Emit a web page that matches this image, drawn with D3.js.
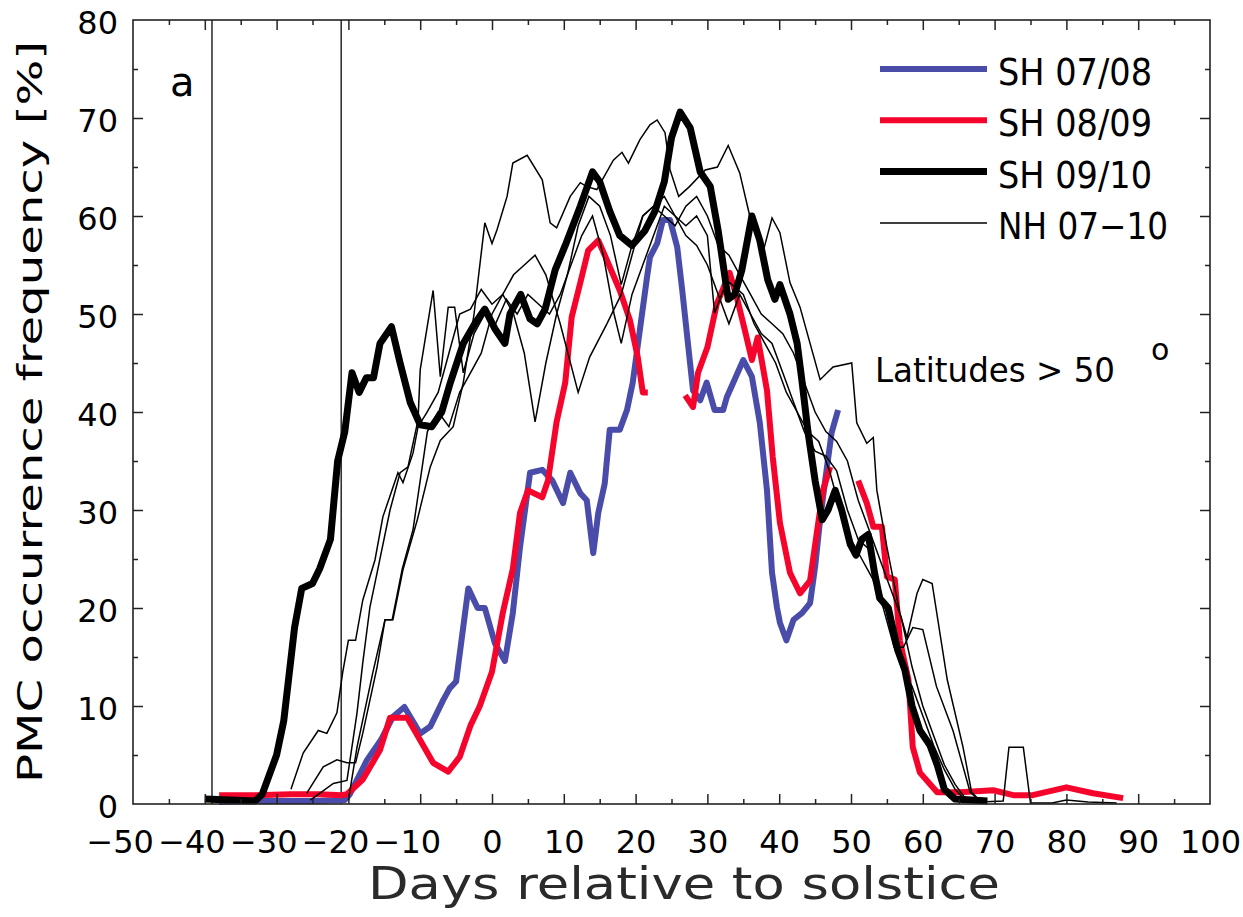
<!DOCTYPE html>
<html>
<head>
<meta charset="utf-8">
<script src="https://cdn.jsdelivr.net/npm/d3@7"></script>
<style>
body { margin: 0; background: #fff; }
svg text { font-family: "DejaVu Sans", sans-serif; fill: #000; }
</style>
</head>
<body>
<script>
// x ticks, y ticks
var xTicks = [-50, -40, -30, -20, -10, 0, 10, 20, 30, 40, 50, 60, 70, 80, 90, 100];
var yTicks = [0, 10, 20, 30, 40, 50, 60, 70, 80];
var markerDays = [-39, -21];

// SH seasons, [day, %]   (null = gap in the record)
var sh0708 = [[-38,0.2],[-33,0.3],[-25,0.3],[-20.5,0.4],[-19.8,1],[-17.4,4.5],[-15.5,6.5],[-13.8,8.9],[-12.2,9.9],
  [-10,7.2],[-8.6,7.9],[-6.8,10.6],[-5.9,11.8],[-5,12.5],[-3.3,22],[-2,20],[-1,20],[0.4,16.4],[1.8,14.6],[2.9,19.5],
  [3.9,26.2],[5.3,33.8],[7,34.1],[8.4,33],[9.9,30.7],[10.9,33.8],[12.3,31.7],[13.2,31],[14.1,25.6],[14.8,29.7],
  [15.7,32.7],[16.4,38.2],[17.8,38.2],[18.8,40.2],[19.6,43],[20.6,48.4],[21.6,53.8],[22,55.8],[23,57.2],[23.8,59.6],
  [24.8,59.6],[25.8,56.8],[26.5,52.4],[27.2,47.6],[28,42.2],[29,41.2],[29.9,43],[31,40.2],[32.2,40.2],[32.7,41.5],
  [35,45.3],[36.2,43.6],[37.3,38.9],[38.3,32],[39,23.6],[39.7,20],[40.1,18.5],[41,16.7],[42,18.8],[43.2,19.5],
  [44.3,20.5],[45,24.2],[45.7,29],[46.4,33],[47.3,37.9],[48.2,40.2]];

var sh0809 = [[-38,0.9],[-33,0.9],[-28,1],[-24,1],[-21,0.9],[-20.2,1],[-18,2.5],[-15.6,5.5],[-14.2,8.8],[-11.8,8.8],
  [-10,6.5],[-8.2,4.2],[-6.1,3.3],[-4.5,4.8],[-3,8],[-1.7,10],[0,13.5],[1.5,19.5],[2.9,24],[3.9,29.7],[5,32],
  [7,31.3],[7.8,33],[9,39],[10.2,43],[11.1,49.7],[12.3,53.2],[13.4,56.5],[14.8,57.5],[16,55.5],[17.8,52.4],
  [19.2,49.4],[20.3,45.6],[21,42],[21.7,42],[24,null],[26.9,41.7],[28,40.5],[28.7,44],[30,46.6],[31.3,51],
  [33.1,54.2],[34.1,51.7],[35.2,48.4],[36.2,45.3],[37,47.6],[38.3,42.2],[39.1,35.4],[40.1,28.7],[41.5,23.6],
  [42.9,21.5],[44.3,22.8],[45.3,28],[46.1,32],[47.1,34.4],[49,null],[51,33],[52.2,30.7],[53.1,28.3],[54.3,28.3],
  [55,23.2],[56.1,22.9],[56.8,16.7],[58,12.7],[58.6,5.8],[59.6,3.2],[62,1.2],[65.2,1.2],[69.8,1.4],[72.6,0.9],
  [75.3,0.9],[80,1.7],[83.7,1.1],[87.9,0.6]];

var sh0910 = [[-40,0.5],[-33,0.3],[-32,1],[-30,5],[-29,8.5],[-27.5,18],[-26.5,22],[-25,22.5],[-24,24],[-22.5,27],
  [-21.5,35],[-20.5,38],[-19.5,44],[-18.5,42],[-17.5,43.5],[-16.5,43.5],[-15.6,47],[-14,48.7],[-12.8,45],[-11.4,41],
  [-10,38.7],[-8.4,38.5],[-7,40],[-5.8,43],[-4,47],[-2.4,49],[-1,50.5],[0.4,48.5],[1.8,47],[2.5,50],[4,52],
  [5.3,49.5],[6.3,49],[7.4,50.5],[8.8,54.5],[10.2,57],[12.3,61],[14,64.5],[15,63.5],[16.4,60.5],[17.8,58],
  [19.5,57],[21.3,58.5],[22.7,60.5],[24,63.5],[25,68],[26.2,70.6],[27.6,69],[29,64.5],[30.4,63],[31.5,58.5],
  [32.9,51.5],[33.8,52],[34.8,54.5],[36.2,60],[37.3,57.5],[38.4,53.5],[39.4,51.5],[40.1,53],[41.5,50],[42.5,47],
  [43.2,43],[44,38],[45,33],[46,29],[46.8,30],[47.8,32],[48.7,30],[49.9,26.5],[50.7,25.4],[51.5,27],[52.4,27.5],
  [53.3,23.5],[54,21],[55.2,20],[56.5,15.7],[57.5,13.7],[58.5,10],[59.6,7.5],[61,6],[62,4],[63,1.5],[64.5,0.5],
  [69,0.3]];

// NH seasons 07-10
var nhA = [[-28,1.5],[-26.3,5.2],[-24.2,7.5],[-23,7.2],[-21.6,9.3],[-20.8,13.4],[-20,16.7],[-19,16.7],[-18,20.8],
  [-16.3,24.9],[-15.2,29.3],[-13.1,33.8],[-12.4,32.8],[-11,35.8],[-10.3,38.5],[-9.1,39.9],[-7.5,42],[-6,46],
  [-4.5,50],[-3,50.5],[-1.5,52.5],[0,51],[1.5,52],[3,50],[4.5,46],[6,39],[7.5,45],[9,50],[10.5,54],[12,59],
  [13.5,62],[15,61],[16.5,58],[18,53],[19.5,57],[21,60],[22.5,61],[24,62],[25.5,60],[27,58],[28.5,57],[30,55],
  [31.5,52],[33,49],[34.5,52],[36,50],[37.5,48],[39,47],[40.5,44],[42,41],[43.5,38],[45,36],[46.5,35.5],[48,34],
  [49.5,30],[51,27],[52.5,26],[54,22],[55.5,18],[57,14],[58.5,12],[60,9],[61.5,6],[63,3.5],[64.5,1.5],[66,0.3],
  [68,0.2],[71.2,0.3],[72,5.8],[74,5.8],[75,0.1],[78,0.1],[80,0.4],[83,0.2],[87,0.1]];
var nhB = [[-25.8,1.1],[-23.5,3.8],[-21.6,4.5],[-20.2,4.2],[-19,4.2],[-18,7.2],[-16,14],[-14.9,18.8],[-13.8,18.8],
  [-12.4,23.9],[-10.4,29],[-8.6,34.4],[-7.2,37.1],[-5.4,38.5],[-4,43],[-2.5,50],[-1,59.3],[0,57.2],[0.7,58.6],
  [2.1,62],[2.9,65.4],[4.9,66.2],[7,63.7],[8.1,59.3],[9,58.8],[10.9,62],[12.3,63.4],[13.2,63],[14.6,62.7],
  [16.9,65.7],[18.1,66.5],[19,65.4],[20.6,67.8],[22,69.3],[23,69.8],[24.1,68.5],[24.8,64.7],[26,62],[27.5,63],
  [29.7,64.7],[31.4,65],[32.9,67.2],[34.5,64.4],[35.9,60],[37.7,56.2],[39,59.8],[40.1,58.3],[41.5,53.2],
  [42.9,50.7],[44.3,47],[45.7,43.3],[47.5,44.6],[50.1,45],[50.8,38.9],[52.2,36.8],[53.1,37.4],[53.6,32],
  [55,26.2],[56.8,19.5],[57.8,17],[59.2,21.5],[60,22.9],[61.3,22.5],[63.4,12.7],[65.6,5.8],[66.8,1.2],[68,0.3]];
var nhC = [[-25.3,0.4],[-22.1,2.1],[-20.2,2.4],[-18.8,9.3],[-18,14.4],[-17,20.1],[-16,23.6],[-14.2,30],
  [-12.8,33.8],[-11.7,34.4],[-10.3,39.2],[-10,44.3],[-8.2,52.4],[-7.2,43.6],[-6.1,50.7],[-5.2,50.7],[-4,44],
  [-2.5,48],[-1,50],[0.5,49],[2,51.5],[3.5,50],[5,52],[6.5,51],[8,50],[9.5,52],[11,55],[12.5,58],[14,60],
  [15.5,56],[17,50],[18,47],[19.5,52],[21,55],[22.5,58],[24,61],[25.5,60],[27,59],[28.5,60],[30,58],[31,50.1],
  [32.2,52.4],[33.1,53.2],[35,52],[36.5,49],[38,47],[39.5,45],[41,42],[42.5,40],[44,38],[45.5,37],[47,34],
  [48.5,30],[50,27],[51.5,25],[53,23],[54.5,20],[56,16],[57.3,16],[58.6,18],[60,17.8],[61.9,12],[64.2,7.5],
  [66.6,1.2],[68,0.3]];
var nhD = [[-20,0.4],[-18.8,5.8],[-16.6,13.4],[-14.9,18.8],[-13.9,18.8],[-12.5,24],[-11,28],[-10,33],[-9,38],
  [-7.5,40],[-6,38.5],[-4.5,42],[-3,44],[-1.5,46],[0,50],[1.5,52],[3,54],[4.5,55],[6,56],[7.5,54],[9.5,49],
  [12,42],[13.6,45.6],[16,49],[18,52],[19.5,56],[21,60],[22.5,61],[24,60],[25.5,59],[27,61],[28.5,62],[30,60],
  [31.5,57],[33,56],[34.5,54],[36,52],[37.5,50],[39,49],[40.5,48],[42,46],[43.5,43],[45,40],[46.5,38],[48,37],
  [49.5,35],[51,31],[52.5,28],[54,25],[55.5,22],[57,19],[58.5,14],[60,10],[61.5,7],[63,4],[64.5,2],[66,0.5],[67,0.1]];

var legendNames = ["SH 07/08", "SH 08/09", "SH 09/10", "NH 07\u221210"];

var W = 1243, H = 917;
var margin = {left: 133, right: 33, top: 20, bottom: 113};
var w = W - margin.left - margin.right, h = H - margin.top - margin.bottom;

var svg = d3.select("body").append("svg").attr("width", W).attr("height", H);
var g = svg.append("g").attr("transform", "translate(" + margin.left + "," + margin.top + ")");

var x = d3.scaleLinear().domain([-50, 100]).range([0, w]);
var y = d3.scaleLinear().domain([0, 80]).range([h, 0]);

var line = d3.line()
  .defined(function(d) { return d[1] != null; })
  .x(function(d) { return x(d[0]); })
  .y(function(d) { return y(d[1]); });

// marker lines
g.selectAll(".marker").data(markerDays).enter().append("line")
  .attr("x1", function(d) { return x(d); }).attr("x2", function(d) { return x(d); })
  .attr("y1", 0).attr("y2", h)
  .attr("stroke", "#333").attr("stroke-width", 1.6);

// data lines
var blue = "#4a4ca9", red = "#f5042c";
g.append("path").attr("d", line(sh0708)).attr("fill", "none").attr("stroke", blue)
  .attr("stroke-width", 6).attr("stroke-linejoin", "round");
g.append("path").attr("d", line(sh0809)).attr("fill", "none").attr("stroke", red)
  .attr("stroke-width", 6).attr("stroke-linejoin", "round");
g.append("path").attr("d", line(sh0910)).attr("fill", "none").attr("stroke", "#000")
  .attr("stroke-width", 7).attr("stroke-linejoin", "round");
[nhA, nhB, nhC, nhD].forEach(function(s) {
  g.append("path").attr("d", line(s)).attr("fill", "none").attr("stroke", "#000").attr("stroke-width", 1.5);
});

// axes (ticks pointing inward, all four sides)
function styleAxis(sel) {
  sel.select(".domain").remove();
  sel.selectAll(".tick line").attr("stroke", "#222").attr("stroke-width", 1.5);
}
var minorX = d3.range(-45, 100, 10), minorY = d3.range(5, 80, 10);

var xb = g.append("g").attr("transform", "translate(0," + h + ")")
  .call(d3.axisBottom(x).tickValues(xTicks).tickSizeInner(-10).tickSizeOuter(0)
    .tickFormat(function(d) { return d < 0 ? "\u2212" + (-d) : d; }).tickPadding(26));
styleAxis(xb);
xb.selectAll("text").attr("font-size", 32).attr("dy", "0.71em");
// negative labels: centre the digits on the tick, the minus hangs left
xb.selectAll(".tick text").filter(function(d) { return d < 0; })
  .attr("text-anchor", "end").attr("x", 20.4);
xb.selectAll(".tick").filter(function(d) { return d === -50 || d === 100; }).select("line").remove();

g.append("g").attr("transform", "translate(0," + h + ")")
  .call(d3.axisBottom(x).tickValues(minorX).tickSizeInner(-5).tickSizeOuter(0).tickFormat(""))
  .call(styleAxis);
g.append("g").call(d3.axisTop(x).tickValues(xTicks.slice(1, -1)).tickSizeInner(-10).tickSizeOuter(0).tickFormat(""))
  .call(styleAxis);
g.append("g").call(d3.axisTop(x).tickValues(minorX).tickSizeInner(-5).tickSizeOuter(0).tickFormat(""))
  .call(styleAxis);

var yl = g.append("g")
  .call(d3.axisLeft(y).tickValues(yTicks).tickSizeInner(-10).tickSizeOuter(0).tickPadding(15));
styleAxis(yl);
yl.selectAll("text").attr("font-size", 32).attr("dy", "0.42em");
yl.selectAll(".tick").filter(function(d) { return d === 0 || d === 80; }).select("line").remove();
g.append("g").call(d3.axisLeft(y).tickValues(minorY).tickSizeInner(-5).tickSizeOuter(0).tickFormat(""))
  .call(styleAxis);
g.append("g").attr("transform", "translate(" + w + ",0)")
  .call(d3.axisRight(y).tickValues(yTicks.slice(1, -1)).tickSizeInner(-10).tickSizeOuter(0).tickFormat(""))
  .call(styleAxis);
g.append("g").attr("transform", "translate(" + w + ",0)")
  .call(d3.axisRight(y).tickValues(minorY).tickSizeInner(-5).tickSizeOuter(0).tickFormat(""))
  .call(styleAxis);

// frame
g.append("rect").attr("width", w).attr("height", h).attr("fill", "none")
  .attr("stroke", "#222").attr("stroke-width", 1.6);

// labels
svg.append("text").attr("transform", "translate(42,412) rotate(-90)")
  .attr("text-anchor", "middle").attr("font-size", 34)
  .attr("textLength", 742).attr("lengthAdjust", "spacingAndGlyphs")
  .text("PMC occurrence frequency [%]");
svg.append("text").attr("x", 684).attr("y", 899)
  .attr("text-anchor", "middle").attr("font-size", 45).style("fill", "#2a2a2a")
  .attr("textLength", 632).attr("lengthAdjust", "spacingAndGlyphs")
  .text("Days relative to solstice");

g.append("text").attr("x", 37).attr("y", 76).attr("font-size", 40).text("a");
g.append("text").attr("x", 742).attr("y", 362).attr("font-size", 34)
  .attr("textLength", 240).attr("lengthAdjust", "spacingAndGlyphs").text("Latitudes > 50");
g.append("text").attr("x", 1018).attr("y", 340).attr("font-size", 30).text("o");

// legend
var legendColors = [blue, red, "#000", "#000"];
var legendWidths = [6, 6, 7, 1.5];
var leg = svg.append("g");
legendNames.forEach(function(n, i) {
  var ly = 69 + i * 51.3;
  leg.append("line").attr("x1", 880).attr("x2", 987).attr("y1", ly).attr("y2", ly)
    .attr("stroke", legendColors[i]).attr("stroke-width", legendWidths[i]);
  leg.append("text").attr("x", 998).attr("y", ly + 16).attr("font-size", 37)
    .attr("textLength", i === 3 ? 170 : 154).attr("lengthAdjust", "spacingAndGlyphs").text(n);
});
</script>
</body>
</html>
